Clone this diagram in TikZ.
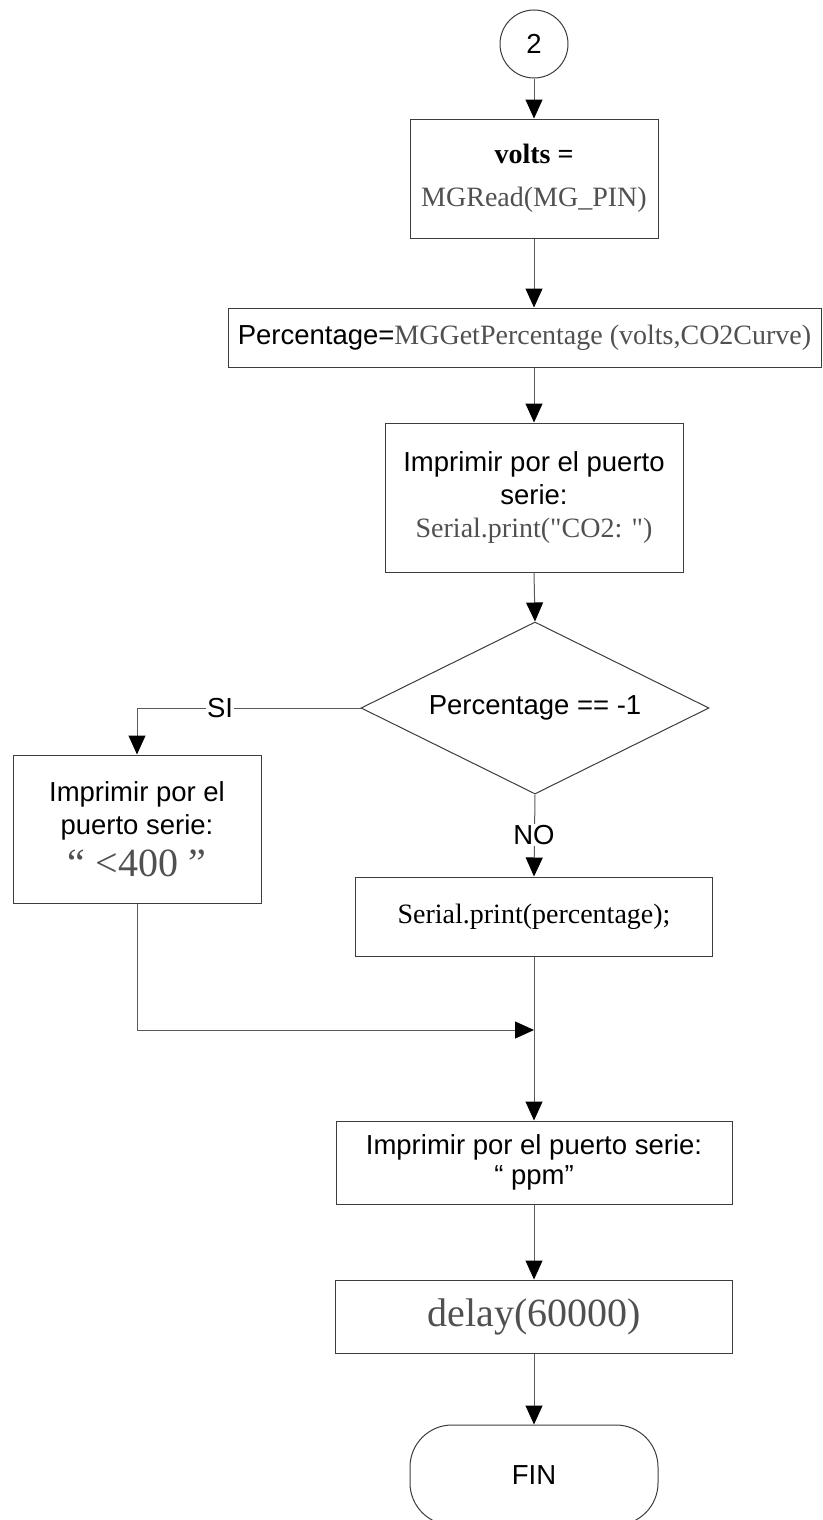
\documentclass[tikz,border=0pt]{standalone}
\usepackage{fontspec}
\setmainfont{Liberation Serif}
\setsansfont{Liberation Sans}
\newfontfamily\plainser{Liberation Serif}[Ligatures=TeXOff]
\usetikzlibrary{arrows.meta,shapes.geometric}
\definecolor{codegray}{HTML}{505050}
\definecolor{linegray}{HTML}{5A5A5A}
\definecolor{boxgray}{HTML}{3C3C3C}
\newcommand{\myfsans}{\sffamily\fontsize{27.5pt}{33pt}\selectfont}
\newcommand{\myfser}{\rmfamily\fontsize{28pt}{34pt}\selectfont}
\newcommand{\myfbig}{\rmfamily\fontsize{40pt}{44pt}\selectfont}
\begin{document}
\begin{tikzpicture}[x=1pt,y=-1pt,
  box/.style={draw=boxgray,line width=1pt,rectangle,inner sep=0pt,align=center},
  conn/.style={draw=linegray,line width=1pt,-{Triangle[length=19pt,width=17pt,color=black]}},
  lbl/.style={fill=white,inner sep=1pt,font=\myfsans}]
\useasboundingbox (0,0) rectangle (822,1520);
\node[draw=boxgray,line width=1pt,circle,minimum size=68pt,inner sep=0pt,font=\myfsans] (c2) at (534,44) {2};
\node[box,minimum width=248pt,minimum height=119pt,font=\myfser] (b1) at (534,178.5)
  {\textbf{volts =}\\[9pt]{\color{codegray}MGRead(MG\_PIN)}};
\node[box,minimum width=593pt,minimum height=59pt,font=\myfsans] (b2) at (524.5,337.5)
  {Percentage={\myfser\color{codegray}MGGetPercentage (volts,CO2Curve)}};
\node[box,minimum width=298pt,minimum height=149pt,font=\myfsans] (b3) at (534,497.5)
  {Imprimir por el puerto\\ serie:\\ {\plainser\fontsize{28pt}{34pt}\selectfont\color{codegray}Serial.print("CO2: ")}};
\node[draw=boxgray,line width=1pt,diamond,aspect=2.02,minimum width=348pt,minimum height=172pt,inner sep=0pt,font=\myfsans] (d) at (535,708) {Percentage == -1};
\node[box,minimum width=248pt,minimum height=148pt,font=\myfsans] (lb) at (137,829)
  {Imprimir por el\\ puerto serie:\\[9pt] {\myfbig\color{codegray}“ <400 ”}};
\node[box,minimum width=357pt,minimum height=79pt,font=\myfser] (sp) at (534,916.5)
  {Serial.print(percentage);};
\coordinate (m) at (534,1030);
\node[box,minimum width=396pt,minimum height=83pt,font=\myfsans] (b4) at (534,1162.5)
  {Imprimir por el puerto serie:\\[-3pt] “ ppm”};
\node[box,minimum width=397pt,minimum height=73pt,font=\myfbig] (b5) at (534,1316.5)
  {\color{codegray}delay(60000)};
\node[draw=boxgray,line width=1pt,rectangle,rounded corners=42pt,minimum width=248pt,minimum height=100pt,inner sep=0pt,font=\myfsans] (fin) at (534,1475) {FIN};
% connectors
\draw[conn] (c2) -- (b1);
\draw[conn] (b1.south) -- (b1.south |- b2.north);
\draw[conn] (b3.north |- b2.south) -- (b3.north);
\draw[conn] (b3.south) -- (d.north);
\draw[conn] (d.west) -| (lb.north);
\draw[conn] (d.south) -- (sp.north);
\draw[conn] (lb.south) |- (m);
\draw[conn] (sp.south) -- (b4.north);
\draw[conn] (b4.south) -- (b5.north);
\draw[conn] (b5.south) -- (fin.north);
\node[lbl] (si) at (220,708) {SI};
\node[lbl] (no) at (534,835) {NO};
\end{tikzpicture}
\end{document}
